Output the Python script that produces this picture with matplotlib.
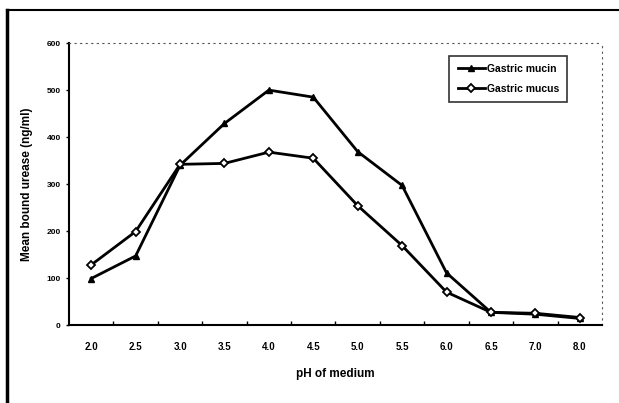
import matplotlib.pyplot as plt
from matplotlib.lines import Line2D

plt.rcParams['font.family'] = ['Liberation Sans', 'DejaVu Sans']

# pH categories and mean bound urease (ng/ml)
ph_labels = ['2.0', '2.5', '3.0', '3.5', '4.0', '4.5', '5.0', '5.5', '6.0', '6.5', '7.0', '8.0']
gastric_mucin = [99, 147, 340, 429, 500, 485, 369, 297, 111, 27, 23, 14]
gastric_mucus = [128, 199, 342, 344, 368, 355, 254, 169, 70, 27, 25, 16]

x = list(range(len(ph_labels)))

fig = plt.figure(figsize=(6.19, 4.03), dpi=100)
ax = fig.add_axes([0.1115, 0.1935, 0.861, 0.6995])

ax.plot(x, gastric_mucin, color='black', lw=2, marker='^', ms=5,
        mfc='black', mec='black', label='Gastric mucin')
ax.plot(x, gastric_mucus, color='black', lw=2, marker='D', ms=4.5,
        mfc='white', mec='black', mew=1.3, label='Gastric mucus')

ax.set_xlim(-0.5, len(ph_labels) - 0.5)
ax.set_ylim(0, 600)
ax.set_yticks(range(0, 601, 100))
ax.set_yticklabels([str(v) for v in range(0, 601, 100)], fontsize=6, fontweight='bold')

# category labels centred, ticks between categories
ax.set_xticks(x)
ax.set_xticklabels(ph_labels, fontsize=7, fontweight='bold')
ax.tick_params(axis='x', length=0, pad=12)
ax.set_xticks([i + 0.5 for i in x[:-1]], minor=True)
ax.tick_params(axis='x', which='minor', direction='in', length=3, width=1)
ax.tick_params(axis='y', direction='out', length=2, width=1, pad=4)

for side in ['left', 'bottom']:
    ax.spines[side].set_linewidth(1.5)
for side in ['top', 'right']:
    ax.spines[side].set_linestyle((0, (1, 4)))
    ax.spines[side].set_linewidth(0.8)
    ax.spines[side].set_color('#555555')

ax.set_xlabel('pH of medium', fontsize=8.5, fontweight='bold', labelpad=12)
ax.set_ylabel('Mean bound urease (ng/ml)', fontsize=8.5, fontweight='bold', labelpad=10)

leg = ax.legend(loc='upper right', bbox_to_anchor=(0.935, 0.955),
                prop={'size': 7.5, 'weight': 'bold'},
                frameon=True, fancybox=False, edgecolor='black',
                handlelength=2.6, handletextpad=0.2, borderpad=0.8,
                labelspacing=0.9, borderaxespad=0)
leg.get_frame().set_linewidth(1.2)
leg._legend_box.align = 'left'

# outer frame lines (left and top)
fig.add_artist(Line2D([0.012, 0.012], [0.0, 0.975], color='black', lw=2.5))
fig.add_artist(Line2D([0.012, 1.0], [0.975, 0.975], color='black', lw=1.5))

fig.savefig('out.png', dpi=100)
